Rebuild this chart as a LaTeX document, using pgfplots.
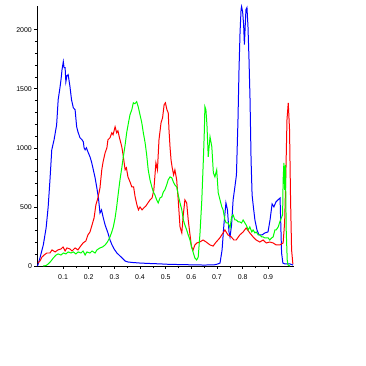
\documentclass[border=0pt]{standalone}
\usepackage{fontspec}
\setmainfont{Liberation Sans}
\usepackage{pgfplots}
\pgfplotsset{compat=1.18}
\begin{document}
\begin{tikzpicture}
\useasboundingbox (0,0) rectangle (366bp,366bp);
\begin{axis}[
  at={(37.4bp,100bp)}, anchor=south west,
  scale only axis, width=256.5bp, height=260bp,
  xmin=0, xmax=1, ymin=0, ymax=2200,
  axis lines=left,
  axis line style={-, black, line width=0.8pt},
  tick align=outside,
  xtick={0.1,0.2,0.3,0.4,0.5,0.6,0.7,0.8,0.9},
  xticklabels={0.1,0.2,0.3,0.4,0.5,0.6,0.7,0.8,0.9},
  ytick={0,500,1000,1500,2000},
  yticklabels={0,500,1000,1500,2000},
  minor x tick num=1,
  minor y tick num=4,
  major tick length=3bp, minor tick length=2.5bp,
  tick style={black, line width=0.5pt},
  ticklabel style={font=\fontsize{7}{8}\selectfont},
  xticklabel style={yshift=-2bp},
  yticklabel style={xshift=1bp},
  clip=false,
]
% blue
\addplot[blue, line width=1pt] coordinates {
(0.000,0) (0.002,8) (0.010,68) (0.023,178) (0.034,322) (0.042,500) (0.049,729) (0.056,983)
(0.065,1068) (0.075,1195) (0.081,1407) (0.088,1509) (0.092,1576) (0.096,1661) (0.101,1729)
(0.104,1678) (0.108,1678) (0.111,1559) (0.115,1610) (0.120,1619) (0.127,1517) (0.133,1407)
(0.140,1339) (0.147,1322) (0.153,1178) (0.158,1136) (0.166,1085) (0.174,1068) (0.179,1051)
(0.182,1000) (0.186,983) (0.191,1000) (0.197,966) (0.205,924) (0.211,881) (0.218,814)
(0.225,746) (0.231,670) (0.238,576) (0.244,449) (0.250,475) (0.256,415) (0.264,347)
(0.275,280) (0.283,220) (0.291,178) (0.299,144) (0.310,110) (0.322,85) (0.330,68)
(0.342,42) (0.353,34) (0.369,30) (0.400,25) (0.43,22) (0.45,20) (0.48,18) (0.5,15) (0.53,14) (0.55,12)
(0.58,11) (0.6,10) (0.63,9) (0.65,8) (0.69,10) (0.70,15) (0.712,25) (0.720,136) (0.727,347)
(0.735,534) (0.741,475) (0.747,288) (0.751,246) (0.757,347) (0.763,559) (0.770,670)
(0.776,771) (0.782,1237) (0.786,1661) (0.790,1975) (0.794,2170) (0.796,2195) (0.800,2153)
(0.804,2042) (0.807,1873) (0.813,2170) (0.817,2187) (0.821,2025) (0.825,1746) (0.829,1407)
(0.833,898) (0.837,602) (0.842,500) (0.848,390) (0.856,305) (0.864,263) (0.876,263)
(0.887,280) (0.899,288) (0.907,390) (0.915,525) (0.922,500) (0.930,542) (0.938,559)
(0.946,576) (0.952,110) (0.957,25) (0.965,17) (0.985,17) (0.997,8)
};
% red
\addplot[red, line width=1pt] coordinates {
(0.002,25) (0.010,42) (0.018,76) (0.026,93) (0.037,110) (0.049,110) (0.057,136) (0.069,119)
(0.080,136) (0.092,144) (0.100,161) (0.108,127) (0.115,153) (0.127,144) (0.135,127)
(0.147,153) (0.158,136) (0.166,161) (0.178,195) (0.189,212) (0.197,263) (0.205,288)
(0.213,347) (0.221,407) (0.228,517) (0.236,576) (0.244,661) (0.251,814) (0.256,881)
(0.264,958) (0.271,1000) (0.275,1068) (0.283,1085) (0.290,1127) (0.295,1110) (0.303,1178)
(0.309,1127) (0.314,1144) (0.320,1085) (0.329,1009) (0.334,941) (0.342,814) (0.347,831)
(0.353,754) (0.361,712) (0.368,670) (0.375,670) (0.381,585) (0.388,517) (0.394,475)
(0.400,500) (0.408,475) (0.415,492) (0.423,508) (0.431,534) (0.439,559) (0.447,576)
(0.454,644) (0.462,873) (0.468,814) (0.474,1068) (0.482,1212) (0.488,1254) (0.494,1364)
(0.499,1381) (0.505,1322) (0.510,1297) (0.513,1153) (0.517,1009) (0.521,898) (0.525,839)
(0.531,771) (0.536,814) (0.543,729) (0.549,559) (0.556,331) (0.563,280) (0.568,415)
(0.575,559) (0.582,534) (0.588,390) (0.595,263) (0.601,161) (0.607,136) (0.614,178)
(0.622,195) (0.633,203) (0.646,220) (0.658,203) (0.673,178) (0.685,169) (0.697,203)
(0.711,237) (0.724,280) (0.731,305) (0.743,263) (0.756,246) (0.766,220) (0.775,220)
(0.789,263) (0.802,288) (0.814,322) (0.828,280) (0.841,246) (0.853,220) (0.867,203)
(0.880,220) (0.892,195) (0.906,203) (0.919,195) (0.931,178) (0.945,178) (0.958,195)
(0.964,373) (0.969,814) (0.973,1237) (0.978,1381) (0.983,1153) (0.987,559) (0.991,136)
(0.996,17)
};
% green
\addplot[green, line width=1pt] coordinates {
(0.022,0) (0.034,4) (0.042,17) (0.053,42) (0.062,68) (0.073,93) (0.081,102) (0.092,93)
(0.101,110) (0.111,102) (0.120,119) (0.131,110) (0.140,119) (0.150,102) (0.159,119)
(0.170,110) (0.178,127) (0.186,93) (0.193,119) (0.205,110) (0.213,127) (0.225,110)
(0.232,136) (0.244,153) (0.254,161) (0.264,178) (0.273,203) (0.283,246) (0.290,288)
(0.296,331) (0.303,407) (0.309,500) (0.316,627) (0.322,729) (0.329,831) (0.335,924)
(0.342,1025) (0.348,1127) (0.355,1212) (0.361,1280) (0.368,1322) (0.374,1381) (0.380,1373)
(0.387,1390) (0.393,1348) (0.400,1280) (0.407,1212) (0.413,1127) (0.420,1042) (0.426,941)
(0.432,814) (0.439,729) (0.446,670) (0.452,627) (0.458,602) (0.465,559) (0.471,534)
(0.478,576) (0.485,585) (0.491,627) (0.497,644) (0.504,686) (0.510,729) (0.517,754)
(0.524,746) (0.530,712) (0.536,686) (0.543,670) (0.549,602) (0.556,534) (0.563,475)
(0.569,390) (0.575,347) (0.582,305) (0.588,263) (0.595,220) (0.601,161) (0.608,110)
(0.614,68) (0.621,51) (0.627,76) (0.634,280) (0.641,559) (0.647,898) (0.651,1153)
(0.653,1348) (0.657,1322) (0.661,1195) (0.666,924) (0.673,1093) (0.680,1009) (0.686,788)
(0.692,754) (0.699,814) (0.705,619) (0.712,559) (0.719,500) (0.724,475) (0.731,390)
(0.736,364) (0.744,364) (0.751,322) (0.757,415) (0.763,432) (0.770,390) (0.775,390)
(0.783,373) (0.789,373) (0.796,364) (0.802,390) (0.809,364) (0.814,347) (0.822,305)
(0.828,331) (0.836,288) (0.841,305) (0.848,280) (0.853,288) (0.861,263) (0.867,263)
(0.875,246) (0.880,246) (0.887,237) (0.892,237) (0.900,237) (0.906,220) (0.913,237)
(0.919,246) (0.926,305) (0.931,305) (0.939,331) (0.945,373) (0.951,407) (0.956,432)
(0.958,729) (0.961,873) (0.964,644) (0.967,856) (0.970,305) (0.974,51) (0.977,8) (0.985,0)
};
\end{axis}
\end{tikzpicture}
\end{document}
